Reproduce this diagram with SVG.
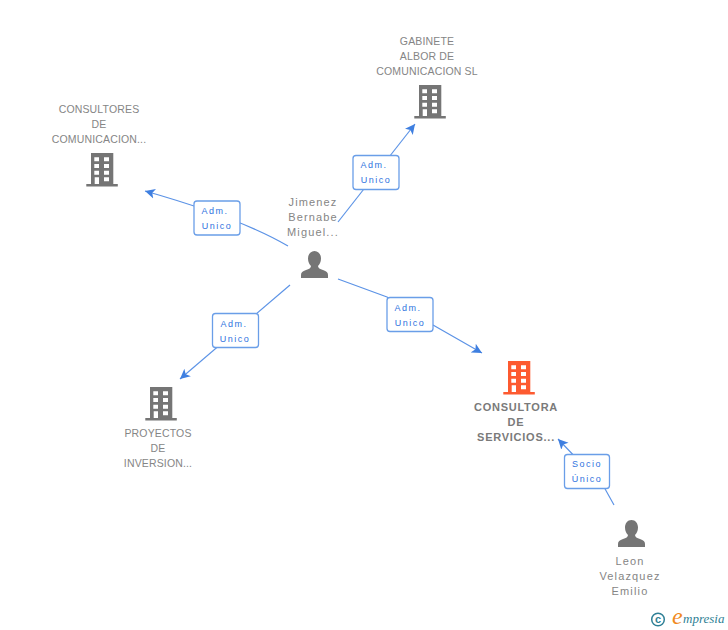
<svg xmlns="http://www.w3.org/2000/svg" width="728" height="630" viewBox="0 0 728 630">
<style>
.n{font-family:"Liberation Sans",Arial,sans-serif;font-size:10.5px;fill:#858585;text-anchor:middle;letter-spacing:.15px}
.p{letter-spacing:1.15px;font-size:11px}
.b{font-weight:bold;fill:#7a7a7a;font-size:11px;letter-spacing:.75px}
.l{font-family:"Liberation Sans",Arial,sans-serif;font-size:9px;fill:#2f73e0;text-anchor:middle;letter-spacing:1.45px}
.box{fill:#fff;stroke:#6a9ee8;stroke-width:1.3}
.c{stroke:#5c93e6;stroke-width:1.2;fill:none;marker-end:url(#a)}
.g{fill:#757575}.o{fill:#fd5a30}
</style>
<defs>
<marker id="a" markerUnits="userSpaceOnUse" markerWidth="12" markerHeight="12" refX="10" refY="5" orient="auto" viewBox="0 0 12 10"><path d="M0 0L10 5L0 10L2.500 5Z" fill="#3f7fe0"/></marker>
<g id="bld"><path d="M0 0H22.300V31H26.800V33.600H-4.700V31H0Z"/><path fill="#fff" d="M3.300 4.300H8V8.300H3.300ZM13 4.300H18V8.300H13ZM3.300 11H8V15H3.300ZM13 11H18V15H13ZM3.300 17.700H8V21.700H3.300ZM13 17.700H18V21.700H13ZM13 24.300H18V28.300H13ZM3.700 24.300H8V31H3.700Z"/></g>
<path id="per" d="M13.500 0C17.500 0 20 3.500 20 7.500C20 11 18.500 13.500 17 15C17 17 19 18 22 19C25.500 20.200 27 21.500 27 24V27H0V24C0 21.500 1.500 20.200 5 19C8 18 10 17 10 15C8.500 13.500 7 11 7 7.500C7 3.500 9.500 0 13.500 0Z"/>
</defs>
<g id="connectors">
<path class="c" d="M338 222L415 124"/>
<path class="c" d="M288 246Q240 218 145 191"/>
<path class="c" d="M338 279L387 297L433 325L482 353"/>
<path class="c" d="M290 285L180 379"/>
<path class="c" d="M614 505L604 487L558 439"/>
</g>
<g id="node-gabinete"><use href="#bld" x="419" y="85" class="g"/><text class="n"><tspan x="427" y="45">GABINETE</tspan><tspan x="427" y="60">ALBOR DE</tspan><tspan x="427" y="75">COMUNICACION SL</tspan></text></g>
<g id="node-consultores"><use href="#bld" x="91" y="153" class="g"/><text class="n"><tspan x="99" y="113">CONSULTORES</tspan><tspan x="99" y="128">DE</tspan><tspan x="99" y="143">COMUNICACION...</tspan></text></g>
<g id="node-jimenez"><use href="#per" x="301" y="251" class="g"/><text class="n p"><tspan x="313" y="206">Jimenez</tspan><tspan x="313" y="221">Bernabe</tspan><tspan x="313" y="236">Miguel...</tspan></text></g>
<g id="node-proyectos"><use href="#bld" x="150" y="387" class="g"/><text class="n"><tspan x="158" y="437">PROYECTOS</tspan><tspan x="158" y="452">DE</tspan><tspan x="158" y="467">INVERSION...</tspan></text></g>
<g id="node-consultora"><use href="#bld" x="508" y="361" class="o"/><text class="n b"><tspan x="516" y="411">CONSULTORA</tspan><tspan x="516" y="426">DE</tspan><tspan x="516" y="441">SERVICIOS...</tspan></text></g>
<g id="node-leon"><use href="#per" x="618" y="520" class="g"/><text class="n p"><tspan x="630" y="565">Leon</tspan><tspan x="630" y="580">Velazquez</tspan><tspan x="630" y="595">Emilio</tspan></text></g>
<g id="label-gabinete"><rect class="box" x="353" y="155.500" width="46" height="34" rx="3"/><text class="l"><tspan x="374" y="168">Adm.</tspan><tspan x="376" y="183">Unico</tspan></text></g>
<g id="label-consultores"><rect class="box" x="194" y="201" width="46" height="34" rx="3"/><text class="l"><tspan x="215" y="214">Adm.</tspan><tspan x="217" y="229">Unico</tspan></text></g>
<g id="label-consultora"><rect class="box" x="387" y="297.500" width="46" height="34" rx="3"/><text class="l"><tspan x="408" y="311">Adm.</tspan><tspan x="410" y="326">Unico</tspan></text></g>
<g id="label-proyectos"><rect class="box" x="212.500" y="313.500" width="46" height="34" rx="3"/><text class="l"><tspan x="234" y="327">Adm.</tspan><tspan x="235" y="342">Unico</tspan></text></g>
<g id="label-socio"><rect class="box" x="564.500" y="454.500" width="45" height="34" rx="3"/><text class="l"><tspan x="587" y="467">Socio</tspan><tspan x="587" y="482">Único</tspan></text></g>
<g id="logo"><circle cx="658" cy="619.500" r="6.300" fill="none" stroke="#2f7f95" stroke-width="1.500"/><text x="658" y="623" font-family="Liberation Sans,sans-serif" font-size="11" font-weight="bold" fill="#2f7f95" text-anchor="middle">c</text><text x="672" y="624" font-family="Liberation Serif,serif" font-style="italic" font-size="24" fill="#f08a1d">e</text><text x="683" y="623" font-family="Liberation Serif,serif" font-style="italic" font-size="13" fill="#2f7f95">mpresia</text></g>
</svg>
